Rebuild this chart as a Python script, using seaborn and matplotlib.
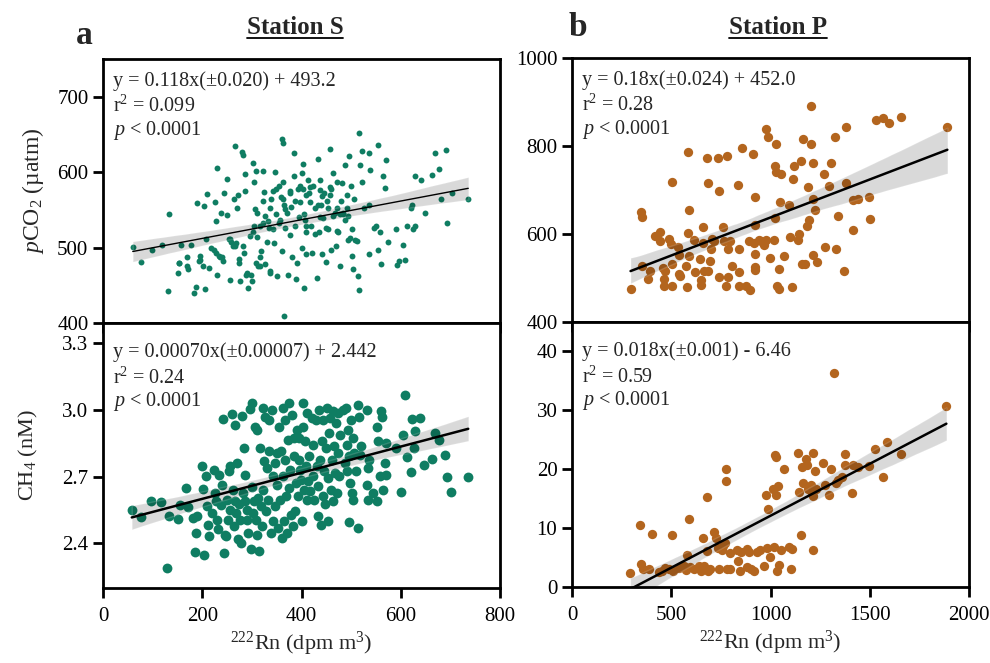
import numpy as np
import pandas as pd
import matplotlib
matplotlib.use("Agg")
import matplotlib.pyplot as plt
from matplotlib.lines import Line2D
import seaborn as sns

# Station S: pCO2 vs 222Rn
rn_s_co2 = [60, 77, 99, 118, 133, 130, 152, 158, 153, 169, 178, 170, 183, 187, 190, 204, 193, 196, 205, 207,
            210, 213, 217, 224, 226, 229, 228, 230, 233, 237, 240, 242, 244, 249, 250, 253, 256, 257, 262, 264,
            267, 271, 272, 275, 277, 281, 283, 284, 287, 287, 290, 293, 298, 301, 302, 303, 304, 305, 308, 310,
            311, 313, 316, 319, 322, 323, 324, 327, 330, 333, 335, 336, 338, 342, 344, 346, 348, 351, 354, 355,
            358, 360, 361, 362, 363, 364, 365, 367, 370, 373, 376, 377, 379, 381, 384, 385, 386, 388, 390, 392,
            394, 397, 400, 401, 404, 405, 406, 409, 410, 413, 416, 417, 420, 422, 424, 428, 432, 434, 436, 437,
            439, 441, 444, 446, 449, 451, 454, 457, 459, 460, 464, 467, 469, 472, 474, 477, 480, 482, 484, 487,
            488, 491, 494, 496, 499, 502, 504, 506, 508, 513, 515, 515, 517, 521, 522, 525, 536, 536, 537, 538,
            546, 550, 554, 555, 558, 561, 565, 569, 571, 574, 590, 593, 597, 605, 609, 612, 620, 622, 625, 628,
            629, 640, 648, 663, 670, 677, 681, 691, 694, 703, 736,
            363, 349, 376, 366, 336, 396, 386, 356, 322, 306, 326, 343, 316, 296, 282, 269, 255, 265, 235, 228,
            195, 202, 171, 154, 309, 316, 336, 275, 289,
            404, 417, 410, 437, 441, 434, 457, 457, 454, 471, 478, 464, 484, 491, 494, 407, 437, 410, 427, 450,
            471, 501, 498, 511]
pco2_s = [501, 481, 497, 504, 544, 443, 466, 503, 480, 475, 504, 487, 440, 448, 559, 555, 482, 489, 445, 512,
          571, 473, 500, 497, 561, 605, 535, 464, 489, 546, 488, 482, 573, 591, 543, 512, 457, 507, 502, 564,
          634, 553, 570, 485, 456, 627, 623, 493, 575, 598, 466, 446, 464, 456, 520, 612, 528, 587, 602, 546,
          514, 475, 488, 495, 602, 533, 574, 478, 507, 535, 526, 466, 564, 575, 506, 600, 544, 462, 582, 533,
          567, 496, 644, 638, 587, 557, 409, 526, 546, 464, 573, 517, 554, 487, 625, 595, 528, 458, 480, 578,
          540, 560, 500, 599, 611, 446, 545, 491, 520, 590, 573, 561, 528, 493, 581, 553, 460, 618, 521, 589,
          557, 491, 539, 573, 481, 562, 524, 631, 577, 497, 599, 546, 502, 587, 520, 475, 562, 585, 546, 610,
          537, 570, 510, 622, 581, 489, 471, 564, 510, 462, 444, 652, 609, 587, 628, 553, 557, 492, 626, 603,
          526, 528, 497, 636, 520, 478, 595, 579, 616, 507, 524, 477, 482, 504, 484, 529, 552, 557, 524, 528,
          595, 589, 546, 596, 625, 604, 564, 630, 533, 572, 565,
          564, 577, 575, 551, 553, 582, 562, 537, 562, 551, 542, 524, 528, 515, 502, 506, 511, 502, 488, 493,
          484, 475, 471, 480, 480, 475, 469, 480, 464,
          578, 580, 570, 576, 568, 557, 570, 580, 553, 553, 544, 542, 544, 553, 542, 537, 540, 529, 518, 526,
          522, 524, 513, 509]

# Station S: CH4 vs 222Rn
rn_s_ch4 = [58, 77, 97, 116, 132, 129, 152, 155, 167, 172, 181, 185, 188, 190, 200, 202, 203, 207, 209, 212,
            214, 219, 223, 225, 228, 229, 232, 234, 237, 239, 241, 243, 245, 248, 249, 251, 253, 255, 256, 259,
            261, 263, 266, 266, 268, 271, 273, 275, 276, 278, 280, 283, 284, 286, 287, 290, 291, 293, 296, 298,
            300, 301, 303, 304, 306, 308, 310, 311, 313, 315, 316, 318, 320, 322, 323, 324, 327, 328, 330, 332,
            334, 335, 338, 340, 342, 343, 346, 347, 350, 351, 353, 355, 357, 358, 360, 362, 363, 365, 367, 367,
            369, 370, 372, 374, 375, 377, 378, 380, 382, 384, 385, 386, 388, 390, 392, 394, 395, 397, 399, 401,
            403, 404, 405, 407, 409, 411, 412, 414, 416, 417, 421, 423, 424, 426, 429, 431, 433, 434, 435, 437,
            439, 441, 443, 444, 446, 448, 449, 451, 453, 454, 456, 457, 459, 461, 463, 464, 466, 467, 470, 471,
            473, 474, 476, 478, 484, 488, 490, 491, 492, 494, 496, 496, 498, 499, 501, 503, 504, 506, 510, 513,
            513, 515, 517, 519, 531, 532, 534, 535, 537, 545, 552, 553, 555, 558, 561, 563, 565, 568, 570, 571,
            590, 600, 605, 609, 612, 620, 622, 626, 628, 638, 647, 663, 670, 678, 689, 694, 701, 736]
ch4_s = [2.552, 2.519, 2.592, 2.585, 2.525, 2.291, 2.510, 2.571, 2.649, 2.564, 2.515, 2.361, 2.445, 2.522, 2.746,
         2.645, 2.349, 2.703, 2.567, 2.485, 2.433, 2.537, 2.731, 2.627, 2.589, 2.507, 2.463, 2.709, 2.571, 2.661,
         2.958, 2.358, 2.440, 2.433, 2.597, 2.507, 2.724, 2.746, 2.552, 2.981, 2.642, 2.477, 2.589, 2.933, 2.537,
         2.761, 2.418, 2.579, 2.507, 2.403, 2.973, 2.627, 2.828, 2.709, 2.589, 2.507, 2.552, 2.448, 3.003, 2.376,
         2.654, 3.033, 2.537, 2.589, 2.925, 2.507, 2.440, 2.910, 2.604, 2.366, 2.828, 2.567, 2.477, 3.007, 2.642,
         2.769, 2.970, 2.545, 2.739, 2.597, 2.813, 2.955, 2.448, 3.000, 2.701, 2.500, 2.761, 2.567, 2.806, 2.664,
         2.470, 2.925, 2.597, 2.813, 2.425, 3.007, 2.701, 2.500, 2.955, 2.776, 2.612, 2.448, 2.866, 3.030, 2.649,
         2.731, 2.530, 2.978, 2.477, 2.873, 2.791, 2.545, 2.672, 2.910, 2.612, 2.776, 2.873, 2.731, 2.686, 2.500,
         2.925, 3.030, 2.642, 2.858, 2.746, 2.597, 2.985, 2.679, 2.791, 2.634, 2.963, 2.701, 2.843, 2.597, 2.955,
         2.746, 2.522, 2.657, 3.000, 2.776, 2.485, 2.858, 2.612, 2.955, 2.724, 2.575, 2.828, 3.007, 2.694, 2.500,
         2.895, 2.963, 2.642, 2.776, 2.993, 2.589, 2.836, 2.716, 2.940, 2.627, 2.985, 2.806, 2.701, 2.888, 3.000,
         2.761, 3.007, 2.843, 2.724, 2.910, 2.791, 2.495, 2.672, 2.955, 2.627, 2.873, 2.597, 2.806, 2.724, 3.022,
         2.470, 2.970, 2.799, 2.836, 3.000, 2.664, 2.597, 2.739, 2.776, 2.627, 2.925, 2.589, 2.858, 2.701, 2.993,
         2.970, 2.642, 2.761, 2.851, 2.709, 2.828, 2.630, 2.888, 3.067, 2.788, 2.719, 2.958, 2.828, 2.903, 2.963,
         2.751, 2.781, 2.895, 2.866, 2.799, 2.697, 2.630, 2.697]

# Station P: pCO2 vs 222Rn
rn_p_co2 = [295, 346, 353, 354, 391, 382, 416, 441, 441, 458, 464, 464, 468, 488, 497, 502, 502, 504, 536, 538,
            538, 545, 579, 582, 582, 589, 591, 575, 616, 622, 646, 649, 651, 658, 660, 666, 680, 683, 686, 693,
            700, 705, 716, 738, 741, 742, 763, 766, 775, 784, 782, 784, 796, 807, 838, 839, 842, 842, 857, 878,
            892, 897, 913, 918, 920, 921, 921, 920, 920, 940, 951, 965, 976, 979, 986, 998, 1018, 1027, 1024, 1025,
            1029, 1035, 1041, 1047, 1054, 1045, 1066, 1094, 1097, 1111, 1116, 1108, 1141, 1143, 1156, 1157, 1162, 1172, 1185, 1190,
            1196, 1203, 1205, 1212, 1213, 1216, 1225, 1233, 1270, 1275, 1297, 1307, 1326, 1330, 1342, 1369, 1381, 1378, 1415, 1418,
            1441, 1497, 1502, 1530, 1569, 1596, 1659, 1891]
pco2_p = [475, 651, 638, 527, 515, 498, 595, 604, 585, 523, 497, 482, 515, 589, 577, 718, 532, 482, 570, 553,
          509, 504, 479, 787, 602, 551, 655, 528, 586, 513, 544, 496, 483, 615, 580, 515, 772, 715, 515, 538,
          566, 589, 583, 772, 503, 698, 617, 585, 482, 566, 777, 502, 585, 528, 712, 565, 513, 481, 795, 482,
          585, 473, 781, 580, 555, 685, 620, 525, 518, 586, 585, 575, 586, 839, 820, 545, 586, 804, 636, 755,
          740, 482, 475, 673, 736, 520, 549, 666, 593, 725, 755, 479, 586, 600, 766, 532, 817, 532, 619, 706,
          632, 805, 892, 679, 553, 762, 654, 537, 737, 570, 708, 761, 820, 565, 642, 517, 843, 717, 610, 677,
          679, 683, 634, 859, 864, 853, 867, 843]

# Station P: CH4 vs 222Rn
rn_p_ch4 = [294, 344, 347, 357, 388, 401, 436, 453, 470, 487, 502, 507, 537, 562, 575, 579, 589, 596, 616, 638,
            649, 659, 663, 680, 680, 683, 696, 713, 723, 735, 740, 755, 763, 772, 777, 778, 780, 794, 797, 831,
            834, 844, 851, 881, 884, 894, 901, 918, 931, 945, 968, 975, 982, 987, 995, 1012, 1019, 1024, 1027, 1029,
            1032, 1040, 1045, 1052, 1066, 1091, 1103, 1108, 1141, 1144, 1156, 1161, 1164, 1181, 1186, 1191, 1203, 1211, 1213, 1213,
            1216, 1225, 1230, 1267, 1273, 1295, 1304, 1321, 1331, 1342, 1359, 1376, 1374, 1411, 1418, 1441, 1495, 1525, 1566, 1589,
            1656, 1886]
ch4_p = [2.3, 10.6, 3.9, 3.1, 3.0, 9.0, 2.6, 2.8, 3.3, 3.0, 8.8, 2.7, 3.2, 3.5, 2.9, 5.5, 11.5, 3.4, 3.1, 3.5,
         2.8, 8.3, 3.6, 15.2, 6.1, 2.8, 3.1, 9.4, 8.4, 6.7, 3.0, 6.2, 7.0, 7.5, 20.0, 18.0, 3.0, 5.7, 3.1, 6.2,
         4.4, 2.8, 6.0, 6.4, 3.4, 6.0, 3.0, 2.8, 6.0, 6.2, 3.5, 15.6, 6.6, 13.2, 5.1, 16.7, 6.8, 22.5, 22.1, 15.6,
         2.8, 17.2, 3.7, 6.2, 20.1, 6.8, 3.0, 6.4, 22.7, 16.1, 8.9, 20.4, 17.6, 21.8, 20.7, 16.6, 17.3, 15.9, 22.7, 15.5,
         6.2, 19.7, 16.6, 21.0, 17.3, 15.6, 20.0, 36.3, 17.6, 18.2, 18.7, 22.6, 20.8, 15.9, 20.8, 20.4, 20.6, 23.4, 18.7, 24.6,
         22.6, 30.8]

eq_s_co2 = ["y = 0.118x(\u00b10.020) + 493.2", "r$^2$ = 0.099", "$p$ < 0.0001"]
eq_s_ch4 = ["y = 0.00070x(\u00b10.00007) + 2.442", "r$^2$ = 0.24", "$p$ < 0.0001"]
eq_p_co2 = ["y = 0.18x(\u00b10.024) + 452.0", "r$^2$ = 0.28", "$p$ < 0.0001"]
eq_p_ch4 = ["y = 0.018x(\u00b10.001) - 6.46", "r$^2$ = 0.59", "$p$ < 0.0001"]

green = "#0f7d62"
brown = "#b3651e"

sns.set_style("ticks")
plt.rcParams["font.family"] = ["Liberation Serif", "DejaVu Serif"]
plt.rcParams["mathtext.fontset"] = "custom"
plt.rcParams["mathtext.rm"] = "Liberation Serif"
plt.rcParams["mathtext.it"] = "Liberation Serif:italic"
plt.rcParams["mathtext.bf"] = "Liberation Serif:bold"

fig = plt.figure(figsize=(9.9, 6.63), dpi=100)
W, H = 990, 663


def add_ax(l, t, r, b):
    return fig.add_axes([l / W, 1 - b / H, (r - l) / W, (b - t) / H])


ax_a = add_ax(103, 59, 500, 323)
ax_c = add_ax(103, 323, 500, 588)
ax_b = add_ax(572, 58, 969, 322)
ax_d = add_ax(572, 322, 969, 587)

panels = [
    (ax_a, rn_s_co2, pco2_s, green, 18, 1.0, eq_s_co2),
    (ax_c, rn_s_ch4, ch4_s, green, 50, 1.8, eq_s_ch4),
    (ax_b, rn_p_co2, pco2_p, brown, 45, 1.8, eq_p_co2),
    (ax_d, rn_p_ch4, ch4_p, brown, 45, 1.8, eq_p_ch4),
]

for ax, x, y, col, size, lw, eq in panels:
    df = pd.DataFrame({"x": x, "y": y})
    sns.regplot(data=df, x="x", y="y", ax=ax, ci=95, seed=0, truncate=True,
                scatter_kws={"s": size, "color": col, "linewidths": 0, "alpha": 1},
                line_kws={"color": "black", "lw": lw})
    ax.set_xlabel("")
    ax.set_ylabel("")
    for s in ax.spines.values():
        s.set_visible(True)
        s.set_linewidth(2.0)
        s.set_color("black")
    ax.tick_params(direction="out", length=7.5, width=2.0, labelsize=15, colors="black", pad=3)
    ax.tick_params(axis="x", pad=6)
    if ax in (ax_a, ax_b):
        ys = [0.915, 0.82, 0.73]
    else:
        ys = [0.89, 0.79, 0.705]
    for txt, yy in zip(eq, ys):
        ax.text(0.025, yy, txt, transform=ax.transAxes, fontsize=14.5, va="center", ha="left")

# axis limits and ticks
for ax in (ax_a, ax_c):
    ax.set_xlim(0, 800)
    ax.set_xticks([0, 200, 400, 600, 800])
for ax in (ax_b, ax_d):
    ax.set_xlim(0, 2000)
    ax.set_xticks([0, 500, 1000, 1500, 2000])
ax_a.set_ylim(400, 750)
ax_a.set_yticks([400, 500, 600, 700])
ax_c.set_ylim(2.2, 3.39)
ax_c.set_yticks([2.4, 2.7, 3.0, 3.3])
ax_c.set_yticklabels(["2.4", "2.7", "3.0", "3.3"])
ax_b.set_ylim(400, 1000)
ax_b.set_yticks([400, 600, 800, 1000])
ax_d.set_ylim(0, 45)
ax_d.set_yticks([0, 10, 20, 30, 40])
for ax in (ax_a, ax_b):
    ax.tick_params(labelbottom=False)

ax_a.set_ylabel("$p$CO$_2$ (\u00b5atm)", fontsize=17, labelpad=8)
ax_c.set_ylabel("CH$_4$ (nM)", fontsize=16, labelpad=16)
ax_c.set_xlabel("$^{222}$Rn (dpm m$^3$)", fontsize=16, labelpad=3)
ax_d.set_xlabel("$^{222}$Rn (dpm m$^3$)", fontsize=16, labelpad=3)

# panel letters and underlined titles
fig.text(84 / W, 1 - 36 / H, "a", fontsize=24, fontweight="bold", ha="center", va="center")
fig.text(578 / W, 1 - 28 / H, "b", fontsize=24, fontweight="bold", ha="center", va="center")
titles = [fig.text(295 / W, 1 - 28 / H, "Station S", fontsize=18, fontweight="bold", ha="center", va="center"),
          fig.text(778 / W, 1 - 28 / H, "Station P", fontsize=18, fontweight="bold", ha="center", va="center")]
fig.canvas.draw()
renderer = fig.canvas.get_renderer()
for t in titles:
    bb = t.get_window_extent(renderer)
    yl = bb.y0 + 2
    fig.add_artist(Line2D([bb.x0 / W, bb.x1 / W], [yl / H, yl / H], transform=fig.transFigure,
                          color="black", lw=1.3))

fig.savefig("out.png", dpi=100)
